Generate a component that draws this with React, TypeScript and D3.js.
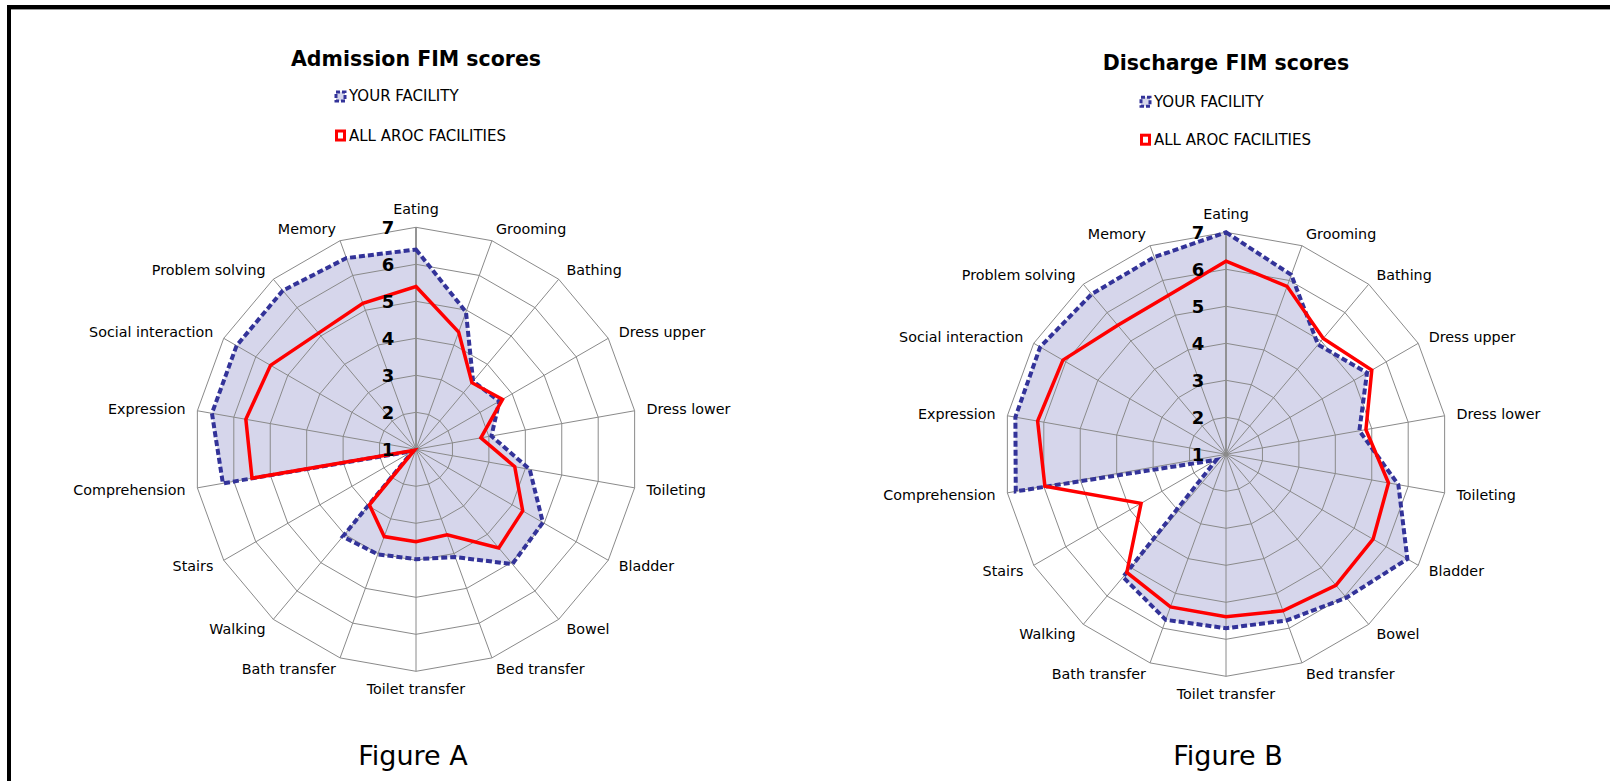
import React from "react";
import * as d3 from "d3";

const categories = [
  "Eating", "Grooming", "Bathing", "Dress upper", "Dress lower", "Toileting",
  "Bladder", "Bowel", "Bed transfer", "Toilet transfer", "Bath transfer",
  "Walking", "Stairs", "Comprehension", "Expression", "Social interaction",
  "Problem solving", "Memory",
];
const tickValues = [1, 2, 3, 4, 5, 6, 7];
const seriesNames = ["YOUR FACILITY", "ALL AROC FACILITIES"];

const admissionFacility = [6.4, 4.95, 3.4, 3.6, 3.07, 4.12, 4.96, 5.05, 4.1, 3.97, 4.02, 4.08, 1.1, 6.3, 6.6, 6.6, 6.6, 6.5];
const admissionAroc = [5.4, 4.37, 3.35, 3.7, 2.78, 3.71, 4.33, 4.48, 3.46, 3.5, 3.51, 2.96, 1.05, 5.5, 5.67, 5.54, 5.1, 5.2];
const dischargeFacility = [7.0, 6.16, 4.87, 5.4, 4.66, 5.73, 6.66, 6.06, 5.78, 5.7, 5.76, 5.33, 1.3, 6.77, 6.78, 6.8, 6.65, 6.67];
const dischargeAroc = [6.22, 5.83, 5.09, 5.55, 4.84, 5.46, 5.59, 5.62, 5.5, 5.39, 5.39, 5.17, 3.65, 5.97, 6.17, 6.09, 5.55, 5.57];

const FONT = "'DejaVu Sans', Verdana, sans-serif";
const BLUE = "#333399";
const RED = "#ff0000";
const GRID = "#8a8a8a";
const R = 222;

type RadarProps = {
  cx: number; cy: number; title: string; titleY: number;
  legendX: number; legendY1: number; legendY2: number;
  facility: number[]; aroc: number[]; figure: string; figureX: number;
};

function Radar(p: RadarProps) {
  const { cx, cy } = p;
  const n = categories.length;
  const r = d3.scaleLinear().domain([1, 7]).range([0, R]);
  const ang = (i: number) => (i * 2 * Math.PI) / n;
  const line = d3
    .lineRadial<number>()
    .angle((_d, i) => ang(i))
    .radius((d) => r(d))
    .curve(d3.curveLinearClosed);

  const rings = tickValues.slice(1).map((v) => line(categories.map(() => v)) as string);

  return (
    <g>
      <text x={cx} y={p.titleY} textAnchor="middle" dominantBaseline="central"
        fontFamily={FONT} fontWeight="bold" fontSize={20.5} fill="#000">{p.title}</text>
      {/* legend */}
      <rect x={p.legendX - 13} y={p.legendY1 - 4.5} width={9} height={9} fill="#d6d7ea"
        stroke={BLUE} strokeWidth={3} strokeDasharray="4,2" />
      <text x={p.legendX} y={p.legendY1} dominantBaseline="central" fontFamily={FONT}
        fontSize={15} fill="#000">{seriesNames[0]}</text>
      <rect x={p.legendX - 12.5} y={p.legendY2 - 4.5} width={8} height={9} fill="#fff"
        stroke={RED} strokeWidth={3} />
      <text x={p.legendX} y={p.legendY2} dominantBaseline="central" fontFamily={FONT}
        fontSize={15} fill="#000">{seriesNames[1]}</text>

      <g transform={`translate(${cx},${cy})`}>
        <path d={line(p.facility) as string} fill={BLUE} fillOpacity={0.2} stroke="none" />
        {rings.map((d, i) => (
          <path key={i} d={d} fill="none" stroke={GRID} strokeWidth={1} />
        ))}
        {categories.map((c, i) => (
          <line key={c} x1={0} y1={0} x2={R * Math.sin(ang(i))} y2={-R * Math.cos(ang(i))}
            stroke={GRID} strokeWidth={i === 0 ? 1.8 : 1} />
        ))}
        <circle r={2.5} fill={GRID} />
        <path d={line(p.facility) as string} fill="none" stroke={BLUE} strokeWidth={4}
          strokeDasharray="6,3" strokeLinejoin="miter" />
        <path d={line(p.aroc) as string} fill="none" stroke={RED} strokeWidth={3.5}
          strokeLinejoin="miter" />
        {tickValues.map((v) => (
          <text key={v} x={-28} y={-r(v)} textAnchor="middle" dominantBaseline="central"
            fontFamily={FONT} fontWeight="bold" fontSize={18} fill="#000">{v}</text>
        ))}
        {categories.map((c, i) => {
          const s = Math.sin(ang(i));
          const co = Math.cos(ang(i));
          const ex = R * s;
          const ey = -R * co;
          let anchor: "start" | "middle" | "end" = "middle";
          let x = ex;
          let y = ey - 12 * co;
          if (Math.abs(s) < 0.1) {
            y = ey - 18 * co;
          } else {
            anchor = s > 0 ? "start" : "end";
            x = ex + 12 * s;
          }
          return (
            <text key={c} x={x} y={y} textAnchor={anchor} dominantBaseline="central"
              fontFamily={FONT} fontSize={14.3} fill="#000">{c}</text>
          );
        })}
      </g>
      <text x={p.figureX} y={755} textAnchor="middle" dominantBaseline="central"
        fontFamily={FONT} fontSize={27} fill="#000">{p.figure}</text>
    </g>
  );
}

export default function App() {
  return (
    <svg width={1610} height={781} style={{ position: "absolute", left: 0, top: 0, background: "#fff" }}>
      <rect x={0} y={0} width={1610} height={781} fill="#fff" />
      <line x1={11} y1={9.5} x2={1610} y2={9.5} stroke="#999" strokeWidth={1} />
      <line x1={7} y1={7} x2={1610} y2={7} stroke="#000" strokeWidth={4} />
      <line x1={9} y1={5} x2={9} y2={781} stroke="#000" strokeWidth={4} />
      <Radar cx={416} cy={449.3} title="Admission FIM scores" titleY={58.5}
        legendX={349} legendY1={96.4} legendY2={135.5}
        facility={admissionFacility} aroc={admissionAroc} figure="Figure A" figureX={413} />
      <Radar cx={1226} cy={454.3} title="Discharge FIM scores" titleY={63}
        legendX={1154} legendY1={101.7} legendY2={139.7}
        facility={dischargeFacility} aroc={dischargeAroc} figure="Figure B" figureX={1228} />
    </svg>
  );
}
